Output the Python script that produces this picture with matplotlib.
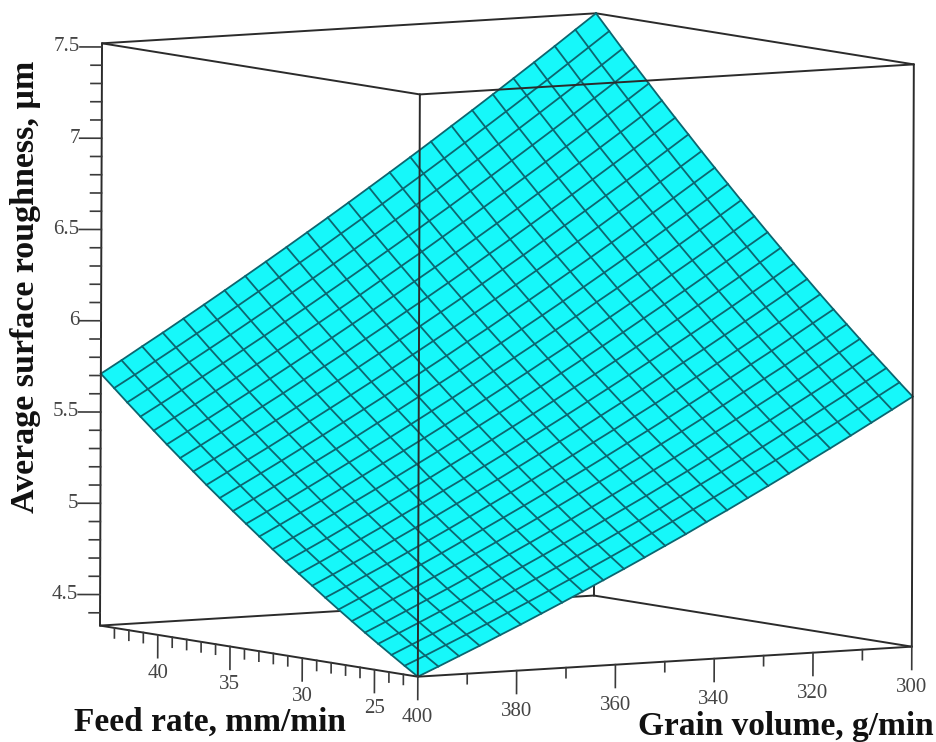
import matplotlib
matplotlib.use('Agg')
import matplotlib.pyplot as plt
import numpy as np
from mpl_toolkits.mplot3d import proj3d

feed = [22, 22.92, 23.83, 24.75, 25.67, 26.58, 27.5, 28.42, 29.33, 30.25, 31.17, 32.08, 33,
        33.92, 34.83, 35.75, 36.67, 37.58, 38.5, 39.42, 40.33, 41.25, 42.17, 43.08, 44]
grain = [400, 395.83, 391.67, 387.5, 383.33, 379.17, 375, 370.83, 366.67, 362.5, 358.33, 354.17, 350,
         345.83, 341.67, 337.5, 333.33, 329.17, 325, 320.83, 316.67, 312.5, 308.33, 304.17, 300]

# one row per grain value, one column per feed value
roughness = [
    [4.330, 4.378, 4.426, 4.475, 4.525, 4.576, 4.628, 4.681, 4.735, 4.789, 4.844, 4.900, 4.958, 5.016, 5.074, 5.134, 5.194, 5.256, 5.318, 5.381, 5.445, 5.510, 5.576, 5.643, 5.710],
    [4.379, 4.427, 4.477, 4.527, 4.577, 4.629, 4.682, 4.735, 4.790, 4.845, 4.901, 4.958, 5.016, 5.075, 5.134, 5.195, 5.256, 5.318, 5.381, 5.445, 5.510, 5.575, 5.642, 5.709, 5.777],
    [4.429, 4.478, 4.528, 4.579, 4.630, 4.683, 4.736, 4.791, 4.846, 4.902, 4.958, 5.016, 5.075, 5.134, 5.195, 5.256, 5.318, 5.381, 5.445, 5.509, 5.575, 5.641, 5.709, 5.777, 5.846],
    [4.479, 4.529, 4.580, 4.632, 4.684, 4.737, 4.791, 4.846, 4.902, 4.959, 5.017, 5.075, 5.134, 5.195, 5.256, 5.318, 5.380, 5.444, 5.509, 5.574, 5.641, 5.708, 5.776, 5.845, 5.914],
    [4.531, 4.581, 4.633, 4.685, 4.738, 4.792, 4.847, 4.903, 4.960, 5.017, 5.075, 5.135, 5.195, 5.256, 5.318, 5.381, 5.444, 5.508, 5.574, 5.640, 5.707, 5.775, 5.844, 5.914, 5.984],
    [4.582, 4.634, 4.686, 4.739, 4.793, 4.848, 4.903, 4.960, 5.018, 5.076, 5.135, 5.195, 5.256, 5.318, 5.380, 5.444, 5.508, 5.573, 5.639, 5.706, 5.774, 5.843, 5.912, 5.983, 6.054],
    [4.635, 4.687, 4.740, 4.794, 4.849, 4.904, 4.961, 5.018, 5.076, 5.135, 5.195, 5.256, 5.318, 5.380, 5.443, 5.508, 5.573, 5.639, 5.706, 5.773, 5.842, 5.911, 5.982, 6.053, 6.125],
    [4.688, 4.741, 4.795, 4.850, 4.905, 4.961, 5.019, 5.077, 5.136, 5.196, 5.256, 5.318, 5.380, 5.443, 5.508, 5.573, 5.638, 5.705, 5.773, 5.841, 5.911, 5.981, 6.052, 6.124, 6.197],
    [4.742, 4.796, 4.850, 4.906, 4.962, 5.019, 5.077, 5.136, 5.196, 5.256, 5.318, 5.380, 5.443, 5.507, 5.572, 5.638, 5.704, 5.772, 5.840, 5.910, 5.980, 6.051, 6.123, 6.195, 6.269],
    [4.797, 4.851, 4.907, 4.963, 5.020, 5.078, 5.136, 5.196, 5.256, 5.318, 5.380, 5.443, 5.507, 5.572, 5.638, 5.704, 5.771, 5.840, 5.909, 5.979, 6.050, 6.122, 6.194, 6.268, 6.342],
    [4.852, 4.907, 4.963, 5.020, 5.078, 5.137, 5.196, 5.257, 5.318, 5.380, 5.443, 5.507, 5.571, 5.637, 5.704, 5.771, 5.839, 5.908, 5.978, 6.049, 6.120, 6.193, 6.266, 6.340, 6.416],
    [4.908, 4.964, 5.021, 5.079, 5.137, 5.197, 5.257, 5.318, 5.380, 5.443, 5.507, 5.571, 5.637, 5.703, 5.770, 5.838, 5.907, 5.977, 6.048, 6.119, 6.192, 6.265, 6.339, 6.414, 6.490],
    [4.965, 5.022, 5.079, 5.138, 5.197, 5.257, 5.318, 5.380, 5.443, 5.507, 5.571, 5.636, 5.703, 5.770, 5.838, 5.907, 5.976, 6.047, 6.118, 6.191, 6.264, 6.338, 6.413, 6.488, 6.565],
    [5.022, 5.080, 5.138, 5.197, 5.257, 5.318, 5.380, 5.443, 5.506, 5.571, 5.636, 5.702, 5.769, 5.837, 5.906, 5.975, 6.046, 6.117, 6.189, 6.262, 6.336, 6.411, 6.487, 6.563, 6.641],
    [5.081, 5.139, 5.198, 5.258, 5.319, 5.380, 5.443, 5.506, 5.571, 5.636, 5.702, 5.769, 5.837, 5.905, 5.975, 6.045, 6.116, 6.188, 6.261, 6.335, 6.410, 6.486, 6.562, 6.639, 6.717],
    [5.139, 5.198, 5.258, 5.319, 5.380, 5.443, 5.506, 5.571, 5.636, 5.702, 5.768, 5.836, 5.904, 5.974, 6.044, 6.115, 6.187, 6.260, 6.334, 6.408, 6.484, 6.560, 6.637, 6.715, 6.794],
    [5.199, 5.259, 5.319, 5.381, 5.443, 5.506, 5.570, 5.635, 5.701, 5.768, 5.835, 5.904, 5.973, 6.043, 6.114, 6.186, 6.259, 6.332, 6.407, 6.482, 6.559, 6.636, 6.714, 6.792, 6.872],
    [5.259, 5.320, 5.381, 5.443, 5.506, 5.570, 5.635, 5.701, 5.768, 5.835, 5.903, 5.972, 6.043, 6.114, 6.185, 6.258, 6.331, 6.406, 6.481, 6.557, 6.634, 6.712, 6.791, 6.870, 6.951],
    [5.320, 5.381, 5.443, 5.507, 5.570, 5.635, 5.701, 5.767, 5.835, 5.903, 5.972, 6.042, 6.113, 6.184, 6.257, 6.330, 6.404, 6.480, 6.556, 6.633, 6.710, 6.789, 6.868, 6.949, 7.030],
    [5.382, 5.444, 5.507, 5.570, 5.635, 5.701, 5.767, 5.834, 5.902, 5.971, 6.041, 6.112, 6.183, 6.256, 6.329, 6.403, 6.478, 6.554, 6.631, 6.709, 6.787, 6.867, 6.947, 7.028, 7.110],
    [5.444, 5.507, 5.570, 5.635, 5.700, 5.767, 5.834, 5.902, 5.971, 6.040, 6.111, 6.182, 6.255, 6.328, 6.402, 6.477, 6.553, 6.630, 6.707, 6.786, 6.865, 6.945, 7.026, 7.108, 7.191],
    [5.507, 5.570, 5.635, 5.700, 5.766, 5.833, 5.901, 5.970, 6.040, 6.110, 6.182, 6.254, 6.327, 6.401, 6.476, 6.552, 6.628, 6.705, 6.784, 6.863, 6.943, 7.024, 7.106, 7.188, 7.272],
    [5.571, 5.635, 5.700, 5.766, 5.833, 5.901, 5.970, 6.039, 6.110, 6.181, 6.253, 6.326, 6.400, 6.475, 6.550, 6.627, 6.704, 6.782, 6.861, 6.941, 7.022, 7.104, 7.186, 7.270, 7.354],
    [5.635, 5.700, 5.766, 5.833, 5.901, 5.969, 6.039, 6.109, 6.180, 6.252, 6.325, 6.399, 6.473, 6.549, 6.625, 6.703, 6.781, 6.860, 6.939, 7.020, 7.102, 7.184, 7.267, 7.352, 7.437],
    [5.700, 5.766, 5.833, 5.900, 5.969, 6.038, 6.108, 6.179, 6.251, 6.324, 6.398, 6.472, 6.548, 6.624, 6.701, 6.779, 6.858, 6.938, 7.018, 7.100, 7.182, 7.265, 7.349, 7.434, 7.520],
]

feed_major = [25, 30, 35, 40]
feed_minor = [23, 24, 26, 27, 28, 29, 31, 32, 33, 34, 36, 37, 38, 39, 41, 42, 43]
grain_major = [400, 380, 360, 340, 320, 300]
grain_minor = [390, 370, 350, 330, 310]
z_major = [4.5, 5, 5.5, 6, 6.5, 7, 7.5]
z_minor = [4.4, 4.6, 4.7, 4.8, 4.9, 5.1, 5.2, 5.3, 5.4, 5.6, 5.7, 5.8, 5.9,
           6.1, 6.2, 6.3, 6.4, 6.6, 6.7, 6.8, 6.9, 7.1, 7.2, 7.3, 7.4]
z_labels = ['4.5', '5', '5.5', '6', '6.5', '7', '7.5']

f0, f1 = 22, 44
g0, g1 = 400, 300
z0, z1 = 4.33, 7.52

line_col = '#2b2b2b'
tick_col = '#3a3a3a'
label_col = '#444444'
grid_col = '#0c6670'
serif = 'Liberation Serif'

fig = plt.figure(figsize=(9.36, 7.42), dpi=100)
# axes is larger than the figure so the box can be scaled without clipping
ax = fig.add_axes([-6.6 / 936, -116.5 / 742, 1000 / 936, 1000 / 742], projection='3d',
                  proj_type='ortho', computed_zorder=False)
ax.view_init(elev=5.77, azim=147.4, roll=-0.2)
ax.set_box_aspect((588, 584, 583), zoom=0.9874)
ax.set_xlim(f0, f1)
ax.set_ylim(g1, g0)
ax.set_zlim(z0, z1)
ax.set_axis_off()
M = ax.get_proj()


def edge(p, q, zo):
    ax.plot([p[0], q[0]], [p[1], q[1]], [p[2], q[2]], color=line_col, lw=1.4,
            zorder=zo, clip_on=False, solid_capstyle='round')


def tick_label(x, y, z, txt, ha='center'):
    px, py, _ = proj3d.proj_transform(x, y, z, M)
    ax.text2D(px, py, txt, transform=ax.transData, ha=ha, va='center', fontsize=15,
              family=serif, color=label_col)


# back of the box, behind the surface
edge((f1, g0, z0), (f1, g1, z0), 1)
edge((f1, g1, z0), (f0, g1, z0), 1)
edge((f1, g1, z0), (f1, g1, z1), 1)
edge((f1, g0, z1), (f1, g1, z1), 1)
edge((f1, g1, z1), (f0, g1, z1), 1)

Z = np.array(roughness)
F, G = np.meshgrid(feed, grain)
ax.plot_surface(F, G, Z, rstride=1, cstride=1, color='#16f8fa', edgecolor='#16f8fa',
                linewidth=0.3, shade=False, zorder=2, clip_on=False)
# mesh as whole lines, drawn over the fill
for j in range(len(grain)):
    ax.plot(feed, [grain[j]] * len(feed), Z[j, :], color=grid_col, lw=1.3, zorder=2.5, clip_on=False)
for i in range(len(feed)):
    ax.plot([feed[i]] * len(grain), grain, Z[:, i], color=grid_col, lw=1.3, zorder=2.5, clip_on=False)

# front of the box, over the surface
edge((f0, g0, z0), (f1, g0, z0), 3)
edge((f0, g0, z0), (f0, g1, z0), 3)
edge((f0, g0, z0), (f0, g0, z1), 3)
edge((f1, g0, z0), (f1, g0, z1), 3)
edge((f0, g1, z0), (f0, g1, z1), 3)
edge((f0, g0, z1), (f1, g0, z1), 3)
edge((f0, g0, z1), (f0, g1, z1), 3)

# ticks on the floor edges hang straight down
for v in feed_major:
    ax.plot([v, v], [g0, g0], [z0, z0 - 0.125], color=tick_col, lw=1.2, zorder=3, clip_on=False)
    tick_label(v, g0, z0 - 0.21, str(v))
for v in feed_minor:
    ax.plot([v, v], [g0, g0], [z0, z0 - 0.055], color=tick_col, lw=1.2, zorder=3, clip_on=False)
for v in grain_major:
    ax.plot([f0, f0], [v, v], [z0, z0 - 0.125], color=tick_col, lw=1.2, zorder=3, clip_on=False)
    tick_label(f0, v, z0 - 0.225, str(v))
for v in grain_minor:
    ax.plot([f0, f0], [v, v], [z0, z0 - 0.055], color=tick_col, lw=1.2, zorder=3, clip_on=False)

# z ticks point left on screen, which is a mix of feed and grain
for v, lab in zip(z_major, z_labels):
    ax.plot([f1, f1 + 0.43], [g0, g0 + 3.2], [v, v], color=tick_col, lw=1.2, zorder=3, clip_on=False)
    tick_label(f1 + 0.43, g0 + 3.2, v, lab, ha='right')
for v in z_minor:
    ax.plot([f1, f1 + 0.21], [g0, g0 + 1.6], [v, v], color=tick_col, lw=1.2, zorder=3, clip_on=False)

fig.text(210 / 936, 1 - 722 / 742, 'Feed rate, mm/min', ha='center', va='center', fontsize=24,
         fontweight='bold', family=serif, color='#111111')
fig.text(786 / 936, 1 - 727 / 742, 'Grain volume, g/min', ha='center', va='center', fontsize=24,
         fontweight='bold', family=serif, color='#111111')
fig.text(26 / 936, 1 - 287 / 742, 'Average surface roughness, µm', rotation=90, ha='center', va='center',
         fontsize=24.5, fontweight='bold', family=serif, color='#111111')

fig.savefig('out.png', dpi=100)
